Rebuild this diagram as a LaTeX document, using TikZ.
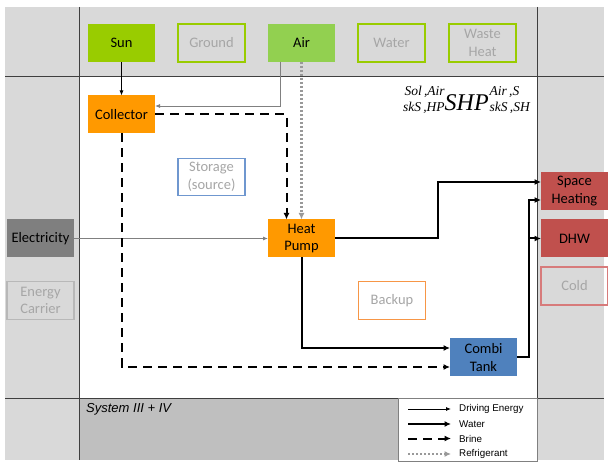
\documentclass[tikz,border=0pt]{standalone}
\usepackage{fontspec}
\setmainfont{Carlito}
\newfontfamily\arialfont{Liberation Sans}
\newfontfamily\timesfont{Liberation Serif}
\usetikzlibrary{arrows.meta}

\definecolor{bandgray}{HTML}{D9D9D9}
\definecolor{sysgray}{HTML}{BFBFBF}
\definecolor{framegray}{HTML}{3F3F3F}
\definecolor{sungreen}{HTML}{99CC00}
\definecolor{airgreen}{HTML}{92D050}
\definecolor{hporange}{HTML}{FF9900}
\definecolor{tankblue}{HTML}{4F81BD}
\definecolor{storeblue}{HTML}{6F97CF}
\definecolor{sinkred}{HTML}{C0504D}
\definecolor{coldred}{HTML}{D77B7B}
\definecolor{backorange}{HTML}{F79646}
\definecolor{elecgray}{HTML}{7F7F7F}
\definecolor{carriergray}{HTML}{B8B8B8}
\definecolor{labelgray}{HTML}{A6A6A6}
\definecolor{wiregray}{HTML}{808080}
\definecolor{refgray}{HTML}{999999}

% two stacked script lines (upper over lower), bottom line on the baseline
\newcommand{\scrstack}[3]{\raisebox{-1pt}{\fontsize{13.5}{16.5}\selectfont
  \begin{tabular}[b]{@{}#1@{}}#2\\#3\end{tabular}}}

\begin{document}
\begin{tikzpicture}[x=1pt,y=-1pt,
  box/.style={minimum width=67pt,minimum height=38pt,inner sep=0pt,outer sep=0pt,
    align=center,font=\fontsize{14.5}{17.5}\selectfont,text=black},
  solidbox/.style={box,fill=#1},
  openbox/.style={box,draw=#1,line width=1.3pt,text=labelgray},
  frameline/.style={draw=framegray,line width=1pt},
  drive/.style={line width=0.8pt,-{Latex[length=5pt,width=4pt]}},
  water/.style={line width=2pt,-{Latex[length=6.5pt,width=6pt]}},
  brine/.style={water,dash pattern=on 9pt off 6pt},
  refrig/.style={line width=2.2pt,draw=refgray,dash pattern=on 2pt off 2pt,
    -{Latex[length=6.5pt,width=6pt,color=refgray]}},
  legtext/.style={anchor=west,font=\arialfont\fontsize{9.8}{10}\selectfont,inner sep=0pt}]

% page, bands and system area
\useasboundingbox[fill=white] (0,0) rectangle (608,462);
\fill[bandgray] (5,7) rectangle (604,460);
\fill[white] (79,77) rectangle (537,398);
\fill[sysgray] (79,398) rectangle (537,460);
\draw[frameline] (5,77) -- (604,77);
\draw[frameline] (5,398) -- (604,398);
\draw[frameline] (79,7) -- (79,460);
\draw[frameline] (537,7) -- (537,460);

% sources
\node[solidbox=sungreen] (sun) at (121.5,43) {Sun};
\node[openbox=sungreen] (ground) at (211.5,43) {Ground};
\node[solidbox=airgreen] (air) at (301.5,43) {Air};
\node[openbox=sungreen] (water) at (391.5,43) {Water};
\node[openbox=sungreen] (waste) at (482.5,43) {Waste\\Heat};

% system components
\node[solidbox=hporange] (coll) at (121.5,114.5) {Collector};
\node[openbox=storeblue,fill=white,minimum height=37pt] (store) at (211.5,177) {Storage\\(source)};
\node[solidbox=hporange] (hp) at (301.5,238.5) {Heat\\Pump};
\node[openbox=backorange,fill=white] (backup) at (392,300.5) {Backup};
\node[solidbox=tankblue] (combi) at (483.5,357.5) {Combi\\Tank};

% energy carriers and sinks
\node[solidbox=elecgray] (elec) at (40.5,238.5) {Electricity};
\node[openbox=carriergray] (carrier) at (40.5,300.5) {Energy\\Carrier};
\node[solidbox=sinkred] (sh) at (574.5,191) {Space\\Heating};
\node[solidbox=sinkred] (dhw) at (574.5,238.5) {DHW};
\node[openbox=coldred] (cold) at (574.5,286) {Cold};

% system label
\node[anchor=base east,inner sep=0pt,font=\timesfont\itshape] (label) at (530,111)
  {\scrstack{r}{Sol\,,Air}{skS\,,HP}{\fontsize{24}{24}\selectfont SHP}\kern1pt\scrstack{l}{Air\,,S}{skS\,,SH}};
\node[anchor=base west,inner sep=0pt,font=\arialfont\itshape\fontsize{13}{13}\selectfont] (sys) at (86,413) {System III + IV};

% driving energy
\draw[drive] (sun.south) -- (coll.north);
\draw[drive,draw=wiregray] ([xshift=-21.5pt]air.south) |- ([yshift=8.5pt]coll.east);
\draw[drive,draw=wiregray] (elec.east) -- (hp.west);

% refrigerant
\draw[refrig] (air.south) -- (hp.north);

% brine
\draw[brine] (coll.east) -| ([xshift=-15pt]hp.north);
\draw[brine] (coll.south) |- ([yshift=-9.5pt]combi.west);

% water
\coordinate (hpjog) at (438,238.5);
\coordinate (riser) at (528.5,357.5);
\draw[water] (hp.south) |- ([yshift=9.5pt]combi.west);
\draw[water] (hp.east) -- (hpjog) |- ([yshift=9pt]sh.west);
\draw[water] (combi.east) -- (riser) |- ([yshift=-9pt]sh.west);
\draw[water] (riser) |- (dhw.west);

% legend
\draw[draw=wiregray,fill=white,line width=0.8pt] (398,398) rectangle (537,461);
\coordinate (la1) at (408,409); \coordinate (lb1) at (451,409);
\coordinate (la2) at (408,424); \coordinate (lb2) at (451,424);
\coordinate (la3) at (408,438.5); \coordinate (lb3) at (451,438.5);
\coordinate (la4) at (408,454); \coordinate (lb4) at (451,454);
\draw[drive] (la1) -- (lb1);
\draw[water] (la2) -- (lb2);
\draw[brine] (la3) -- (lb3);
\draw[refrig] (la4) -- (lb4);
\node[legtext] (t1) at (459,409) {Driving Energy};
\node[legtext] (t2) at (459,424) {Water};
\node[legtext] (t3) at (459,438.5) {Brine};
\node[legtext] (t4) at (459,454) {Refrigerant};
\end{tikzpicture}
\end{document}
